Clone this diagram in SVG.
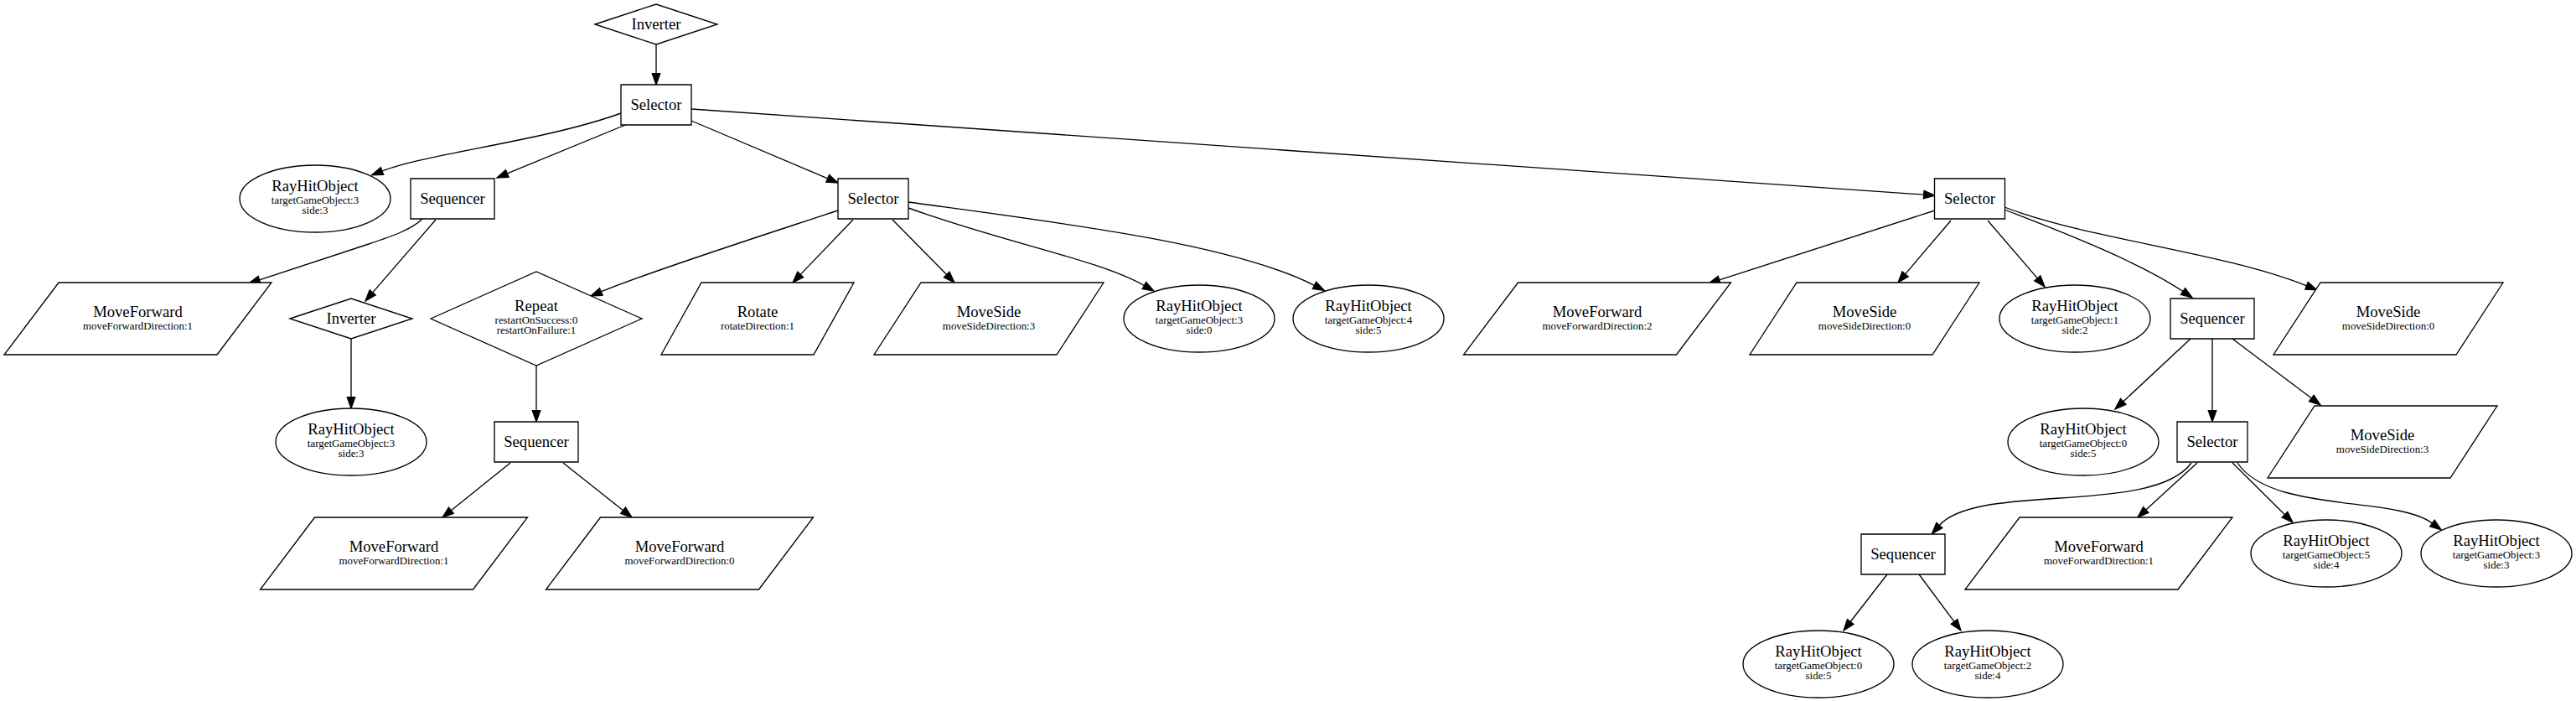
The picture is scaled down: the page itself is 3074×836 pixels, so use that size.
<svg xmlns="http://www.w3.org/2000/svg" width="3074" height="836" viewBox="0 0 3074 836">
<style>
.n polygon,.n ellipse{fill:#fff;stroke:#000;stroke-width:1.33}
.e path{fill:none;stroke:#000;stroke-width:1.33;marker-end:url(#ah)}
text{font-family:"Liberation Serif","Times New Roman",serif;text-anchor:middle;fill:#000}
.t{font-size:18.67px}
.s{font-size:12.9px}
</style>
<defs>
<marker id="ah" markerUnits="userSpaceOnUse" viewBox="0 -6 15 12" refX="0" refY="0" markerWidth="15" markerHeight="12" orient="auto" overflow="visible">
<path d="M0,-4.7L13.3,0L0,4.7z" fill="#000" stroke="#000" stroke-width="1.33"/>
</marker>
</defs>
<rect width="3074" height="836" fill="#fff"/>
<g id="edges" class="e">
<path d="M783,53L783,87.7"/>
<path d="M741,135C650,168 510,183 456,204"/>
<path d="M756,145L605.3,206.9"/>
<path d="M825,144L987.7,212.8"/>
<path d="M825,130L2295.7,232.1"/>
<path d="M504,261C492,273 470,281 440,291L309.6,333.8"/>
<path d="M520,262L444.7,348.9"/>
<path d="M1000,251C900,284 772,325 717.3,347.9"/>
<path d="M1018,262L955.2,327.4"/>
<path d="M1065,262L1129.7,327.5"/>
<path d="M1084,248C1200,290 1309,309 1365.4,340.5"/>
<path d="M1084,241C1260,265 1470,290 1568.5,340.4"/>
<path d="M2309,251L2051.7,333.9"/>
<path d="M2328,263L2273.6,326.9"/>
<path d="M2372,263L2431.3,331.9"/>
<path d="M2392,250C2470,280 2555,314 2605,347.5"/>
<path d="M2392,247C2490,285 2650,300 2752.5,340.8"/>
<path d="M419,404L419,473.7"/>
<path d="M640,436L640,489.7"/>
<path d="M2614,404L2533.7,478.9"/>
<path d="M2640,404L2640,489.7"/>
<path d="M2664,404L2758.4,475"/>
<path d="M609,552L538.4,608.7"/>
<path d="M672,552L743.6,608.7"/>
<path d="M2615,552C2570,615 2360,575 2314.3,626.5"/>
<path d="M2622,552L2560.8,608"/>
<path d="M2664,552L2726.5,613.7"/>
<path d="M2670,552C2710,612 2858,591 2902.4,624"/>
<path d="M2252,685L2208.2,741.5"/>
<path d="M2290,685L2332,741.3"/>
</g>
<g id="n0" class="n"><polygon points="710,29 783,5 856,29 783,53"/><text class="t" x="783" y="35">Inverter</text></g>
<g id="n1" class="n"><polygon points="741,101 825,101 825,149 741,149"/><text class="t" x="783" y="131">Selector</text></g>
<g id="n2" class="n"><ellipse cx="376" cy="237" rx="90" ry="40"/><text class="t" x="376" y="227.7">RayHitObject</text><text class="s" x="376" y="242.7">targetGameObject:3</text><text class="s" x="376" y="255">side:3</text></g>
<g id="n3" class="n"><polygon points="490,213 590,213 590,261 490,261"/><text class="t" x="540" y="243">Sequencer</text></g>
<g id="n4" class="n"><polygon points="1000,213 1084,213 1084,261 1000,261"/><text class="t" x="1042" y="243">Selector</text></g>
<g id="n5" class="n"><polygon points="2308.5,213 2392.5,213 2392.5,261 2308.5,261"/><text class="t" x="2350.5" y="243">Selector</text></g>
<g id="n6" class="n"><polygon points="70,337 324,337 259,423 5,423"/><text class="t" x="164.5" y="377.5">MoveForward</text><text class="s" x="164.5" y="392.5">moveForwardDirection:1</text></g>
<g id="n7" class="n"><polygon points="346,380 419,356 492,380 419,404"/><text class="t" x="419" y="386">Inverter</text></g>
<g id="n8" class="n"><polygon points="514,380 640,324 766,380 640,436"/><text class="t" x="640" y="371">Repeat</text><text class="s" x="640" y="385.5">restartOnSuccess:0</text><text class="s" x="640" y="398">restartOnFailure:1</text></g>
<g id="n9" class="n"><polygon points="837,337 1019,337 971,423 789,423"/><text class="t" x="904" y="377.5">Rotate</text><text class="s" x="904" y="392.5">rotateDirection:1</text></g>
<g id="n10" class="n"><polygon points="1099,337 1317,337 1261,423 1043,423"/><text class="t" x="1180" y="377.5">MoveSide</text><text class="s" x="1180" y="392.5">moveSideDirection:3</text></g>
<g id="n11" class="n"><ellipse cx="1431" cy="380" rx="90" ry="40"/><text class="t" x="1431" y="370.7">RayHitObject</text><text class="s" x="1431" y="385.7">targetGameObject:3</text><text class="s" x="1431" y="398">side:0</text></g>
<g id="n12" class="n"><ellipse cx="1633" cy="380" rx="90" ry="40"/><text class="t" x="1633" y="370.7">RayHitObject</text><text class="s" x="1633" y="385.7">targetGameObject:4</text><text class="s" x="1633" y="398">side:5</text></g>
<g id="n13" class="n"><polygon points="1811.5,337 2065.5,337 2000.5,423 1746.5,423"/><text class="t" x="1906" y="377.5">MoveForward</text><text class="s" x="1906" y="392.5">moveForwardDirection:2</text></g>
<g id="n14" class="n"><polygon points="2144,337 2362,337 2306,423 2088,423"/><text class="t" x="2225" y="377.5">MoveSide</text><text class="s" x="2225" y="392.5">moveSideDirection:0</text></g>
<g id="n15" class="n"><ellipse cx="2476" cy="380" rx="90" ry="40"/><text class="t" x="2476" y="370.7">RayHitObject</text><text class="s" x="2476" y="385.7">targetGameObject:1</text><text class="s" x="2476" y="398">side:2</text></g>
<g id="n16" class="n"><polygon points="2590,356 2690,356 2690,404 2590,404"/><text class="t" x="2640" y="386">Sequencer</text></g>
<g id="n17" class="n"><polygon points="2769,337 2987,337 2931,423 2713,423"/><text class="t" x="2850" y="377.5">MoveSide</text><text class="s" x="2850" y="392.5">moveSideDirection:0</text></g>
<g id="n18" class="n"><ellipse cx="419" cy="527" rx="90" ry="40"/><text class="t" x="419" y="517.7">RayHitObject</text><text class="s" x="419" y="532.7">targetGameObject:3</text><text class="s" x="419" y="545">side:3</text></g>
<g id="n19" class="n"><polygon points="590,503 690,503 690,551 590,551"/><text class="t" x="640" y="533">Sequencer</text></g>
<g id="n20" class="n"><ellipse cx="2486" cy="527" rx="90" ry="40"/><text class="t" x="2486" y="517.7">RayHitObject</text><text class="s" x="2486" y="532.7">targetGameObject:0</text><text class="s" x="2486" y="545">side:5</text></g>
<g id="n21" class="n"><polygon points="2598,503 2682,503 2682,551 2598,551"/><text class="t" x="2640" y="533">Selector</text></g>
<g id="n22" class="n"><polygon points="2762,484 2980,484 2924,570 2706,570"/><text class="t" x="2843" y="524.5">MoveSide</text><text class="s" x="2843" y="539.5">moveSideDirection:3</text></g>
<g id="n23" class="n"><polygon points="375.5,617 629.5,617 564.5,703 310.5,703"/><text class="t" x="470" y="657.5">MoveForward</text><text class="s" x="470" y="672.5">moveForwardDirection:1</text></g>
<g id="n24" class="n"><polygon points="716.5,617 970.5,617 905.5,703 651.5,703"/><text class="t" x="811" y="657.5">MoveForward</text><text class="s" x="811" y="672.5">moveForwardDirection:0</text></g>
<g id="n25" class="n"><polygon points="2221,637 2321,637 2321,685 2221,685"/><text class="t" x="2271" y="667">Sequencer</text></g>
<g id="n26" class="n"><polygon points="2410,617 2664,617 2599,703 2345,703"/><text class="t" x="2504.5" y="657.5">MoveForward</text><text class="s" x="2504.5" y="672.5">moveForwardDirection:1</text></g>
<g id="n27" class="n"><ellipse cx="2776" cy="660" rx="90" ry="40"/><text class="t" x="2776" y="650.7">RayHitObject</text><text class="s" x="2776" y="665.7">targetGameObject:5</text><text class="s" x="2776" y="678">side:4</text></g>
<g id="n28" class="n"><ellipse cx="2979" cy="660" rx="90" ry="40"/><text class="t" x="2979" y="650.7">RayHitObject</text><text class="s" x="2979" y="665.7">targetGameObject:3</text><text class="s" x="2979" y="678">side:3</text></g>
<g id="n29" class="n"><ellipse cx="2170" cy="792" rx="90" ry="40"/><text class="t" x="2170" y="782.7">RayHitObject</text><text class="s" x="2170" y="797.7">targetGameObject:0</text><text class="s" x="2170" y="810">side:5</text></g>
<g id="n30" class="n"><ellipse cx="2372" cy="792" rx="90" ry="40"/><text class="t" x="2372" y="782.7">RayHitObject</text><text class="s" x="2372" y="797.7">targetGameObject:2</text><text class="s" x="2372" y="810">side:4</text></g>
</svg>
